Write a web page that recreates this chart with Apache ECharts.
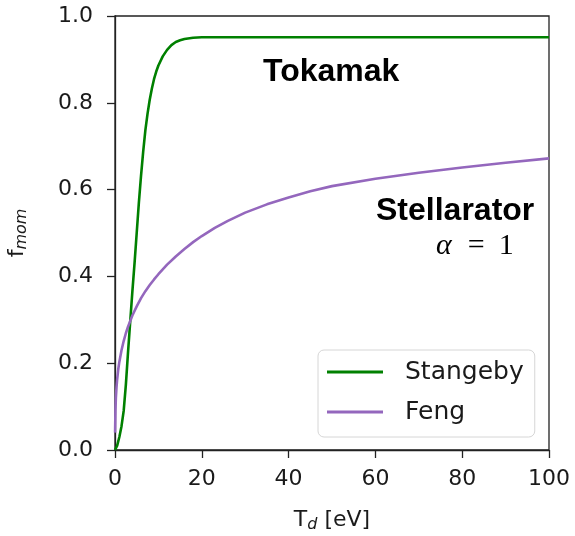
<!DOCTYPE html>
<html>
<head>
<meta charset="utf-8">
<script src="https://cdn.jsdelivr.net/npm/echarts@6/dist/echarts.min.js"></script>
<style>
  html, body { margin: 0; padding: 0; background: #fff; }
  #chart { width: 575px; height: 536px; }
</style>
</head>
<body>
<div id="chart"></div>
<script>
// values
var tdStangeby = [0, 0.5, 1, 1.5, 2, 2.5, 3, 3.5, 4, 4.5, 5, 5.5, 6, 6.5, 7, 7.5, 8, 8.5, 9, 9.5, 10, 11, 12, 13, 14, 15, 16, 18, 20, 30, 40, 50, 60, 70, 80, 90, 100];
var fStangeby = [0, 0.01, 0.03, 0.055, 0.09, 0.15, 0.225, 0.295, 0.365, 0.43, 0.5, 0.57, 0.632, 0.688, 0.737, 0.775, 0.807, 0.833, 0.855, 0.872, 0.886, 0.907, 0.922, 0.933, 0.94, 0.944, 0.947, 0.95, 0.951, 0.951, 0.951, 0.951, 0.951, 0.951, 0.951, 0.951, 0.951];

var tdFeng = [0.02, 0.1, 0.2, 0.35, 0.5, 0.75, 1, 1.5, 2, 2.5, 3, 4, 5, 6, 7, 8, 9, 10, 12, 14, 16, 18, 20, 23, 26, 30, 35, 40, 45, 50, 60, 70, 80, 90, 100];
var fFeng = [0.04, 0.09, 0.12, 0.145, 0.163, 0.186, 0.203, 0.23, 0.251, 0.269, 0.284, 0.31, 0.331, 0.35, 0.366, 0.38, 0.393, 0.405, 0.427, 0.446, 0.463, 0.479, 0.493, 0.512, 0.528, 0.547, 0.566, 0.582, 0.596, 0.608, 0.625, 0.639, 0.651, 0.662, 0.672];

var xTicks = [0, 20, 40, 60, 80, 100];
var yTicks = [0, 0.2, 0.4, 0.6, 0.8, 1.0];

function pairs(xs, ys) {
    var arr = [];
    for (var i = 0; i < xs.length; i++) {
        arr.push([xs[i], ys[i]]);
    }
    return arr;
}

var myChart = echarts.init(document.getElementById('chart'));

var tickFont = 'DejaVu Sans';
var axisColor = '#222';
var textColor = '#1a1a1a';

var option = {
    animation: false,
    grid: {
        left: 115,
        right: 26,
        top: 16,
        bottom: 86,
        outerBoundsMode: 'none',
        containLabel: false,
        show: true,
        borderColor: axisColor,
        borderWidth: 1.3,
        backgroundColor: '#fff'
    },
    legend: {
        left: 318,
        top: 350,
        orient: 'vertical',
        backgroundColor: '#fff',
        borderColor: '#d6d6d6',
        borderWidth: 1,
        borderRadius: 6,
        padding: [9, 11, 12, 9],
        itemGap: 14,
        itemWidth: 56,
        itemHeight: 3,
        textStyle: {
            fontFamily: tickFont,
            fontSize: 25,
            lineHeight: 26,
            color: textColor,
            padding: [0, 0, 0, 17]
        },
        data: [
            { name: 'Stangeby', icon: 'rect' },
            { name: 'Feng', icon: 'rect' }
        ]
    },
    xAxis: {
        type: 'value',
        min: 0,
        max: 100,
        interval: 20,
        name: '{a|T}{b|d}{a| [eV]}',
        nameLocation: 'middle',
        nameGap: 57,
        nameTextStyle: {
            rich: {
                a: { fontFamily: tickFont, fontSize: 22, color: textColor },
                b: { fontFamily: tickFont, fontSize: 16, fontStyle: 'italic', color: textColor, verticalAlign: 'bottom', padding: [10, 0, 0, 0] }
            }
        },
        splitLine: { show: false },
        axisLine: { lineStyle: { color: axisColor, width: 1.3 } },
        axisTick: { inside: false, length: 8, lineStyle: { color: axisColor, width: 1.3 } },
        axisLabel: {
            margin: 18,
            fontFamily: tickFont,
            fontSize: 22,
            color: textColor,
            customValues: xTicks
        }
    },
    yAxis: {
        type: 'value',
        min: 0,
        max: 1,
        interval: 0.2,
        name: '{a|f}{b|mom}',
        nameLocation: 'middle',
        nameGap: 85,
        nameRotate: 90,
        nameTextStyle: {
            rich: {
                a: { fontFamily: tickFont, fontSize: 22, color: textColor },
                b: { fontFamily: tickFont, fontSize: 16, fontStyle: 'italic', color: textColor, verticalAlign: 'bottom', padding: [10, 0, 0, 0] }
            }
        },
        splitLine: { show: false },
        axisLine: { show: true, lineStyle: { color: axisColor, width: 1.3 } },
        axisTick: { show: true, inside: false, length: 8, lineStyle: { color: axisColor, width: 1.3 } },
        axisLabel: {
            margin: 22,
            fontFamily: tickFont,
            fontSize: 22,
            color: textColor,
            customValues: yTicks,
            formatter: function (v) { return v.toFixed(1); }
        }
    },
    series: [{
        name: 'Stangeby',
        type: 'line',
        showSymbol: false,
        smooth: false,
        color: '#008000',
        lineStyle: { color: '#008000', width: 2.6 },
        data: pairs(tdStangeby, fStangeby)
    }, {
        name: 'Feng',
        type: 'line',
        showSymbol: false,
        smooth: false,
        color: '#9467bd',
        lineStyle: { color: '#9467bd', width: 2.6 },
        data: pairs(tdFeng, fFeng)
    }],
    graphic: [{
        type: 'text',
        left: 263,
        top: 56,
        style: {
            text: 'Tokamak',
            fontFamily: 'Liberation Sans',
            fontWeight: 'bold',
            fontSize: 32,
            fill: '#000'
        }
    }, {
        type: 'text',
        left: 376,
        top: 195,
        style: {
            text: 'Stellarator',
            fontFamily: 'Liberation Sans',
            fontWeight: 'bold',
            fontSize: 32,
            fill: '#000'
        }
    }, {
        type: 'text',
        left: 436,
        top: 231,
        style: {
            text: '{i|α}{o|=}{n|1}',
            rich: {
                i: { fontFamily: 'Liberation Serif', fontStyle: 'italic', fontSize: 30, fill: '#000' },
                o: { fontFamily: 'Liberation Serif', fontSize: 30, fill: '#000', padding: [0, 14, 0, 16] },
                n: { fontFamily: 'Liberation Serif', fontSize: 30, fill: '#000' }
            }
        }
    }]
};

myChart.setOption(option);
</script>
</body>
</html>
